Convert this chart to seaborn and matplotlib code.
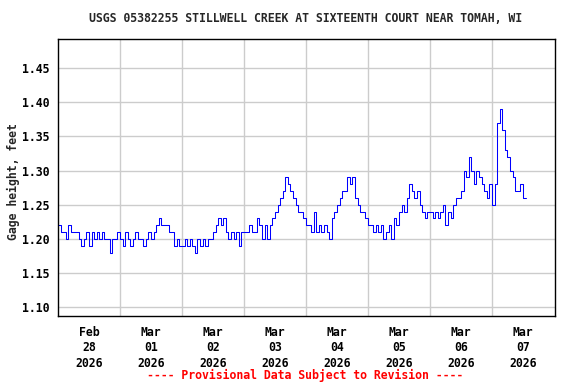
import numpy as np
import pandas as pd
import matplotlib
matplotlib.use("Agg")
import matplotlib.pyplot as plt
import matplotlib.dates as mdates
import seaborn as sns

title = "USGS 05382255 STILLWELL CREEK AT SIXTEENTH COURT NEAR TOMAH, WI"
ylabel = "Gage height, feet"
footer = "---- Provisional Data Subject to Revision ----"

# hourly gage height readings (feet), starting at midnight of each day
feb28 = [1.22, 1.21, 1.21, 1.20, 1.22, 1.21, 1.21, 1.21, 1.20, 1.19, 1.20, 1.21,
         1.19, 1.21, 1.20, 1.21, 1.20, 1.21, 1.20, 1.20, 1.18, 1.20, 1.20, 1.21]
mar01 = [1.20, 1.19, 1.21, 1.20, 1.19, 1.20, 1.21, 1.20, 1.20, 1.19, 1.20, 1.21,
         1.20, 1.21, 1.22, 1.23, 1.22, 1.22, 1.22, 1.21, 1.21, 1.19, 1.20, 1.19]
mar02 = [1.19, 1.20, 1.19, 1.20, 1.19, 1.18, 1.20, 1.19, 1.20, 1.19, 1.20, 1.20,
         1.21, 1.22, 1.23, 1.22, 1.23, 1.21, 1.20, 1.21, 1.20, 1.21, 1.19, 1.21]
mar03 = [1.21, 1.21, 1.22, 1.21, 1.21, 1.23, 1.22, 1.20, 1.22, 1.20, 1.22, 1.23,
         1.24, 1.25, 1.26, 1.27, 1.29, 1.28, 1.27, 1.26, 1.25, 1.24, 1.24, 1.23]
mar04 = [1.22, 1.22, 1.21, 1.24, 1.21, 1.22, 1.21, 1.22, 1.21, 1.20, 1.23, 1.24,
         1.25, 1.26, 1.27, 1.27, 1.29, 1.28, 1.29, 1.26, 1.25, 1.24, 1.24, 1.23]
mar05 = [1.22, 1.22, 1.21, 1.22, 1.21, 1.22, 1.20, 1.21, 1.22, 1.20, 1.23, 1.22,
         1.24, 1.25, 1.24, 1.26, 1.28, 1.27, 1.26, 1.27, 1.25, 1.24, 1.23, 1.24]
mar06 = [1.24, 1.23, 1.24, 1.23, 1.24, 1.25, 1.22, 1.24, 1.23, 1.25, 1.26, 1.26,
         1.27, 1.30, 1.29, 1.32, 1.30, 1.28, 1.30, 1.29, 1.28, 1.27, 1.26, 1.28]
mar07 = [1.25, 1.28, 1.37, 1.39, 1.36, 1.33, 1.32, 1.30, 1.29, 1.27, 1.27, 1.28,
         1.26, 1.26]

day_labels = ["Feb\n28\n2026", "Mar\n01\n2026", "Mar\n02\n2026", "Mar\n03\n2026",
              "Mar\n04\n2026", "Mar\n05\n2026", "Mar\n06\n2026", "Mar\n07\n2026"]
yticks = [1.10, 1.15, 1.20, 1.25, 1.30, 1.35, 1.40, 1.45]

values = feb28 + mar01 + mar02 + mar03 + mar04 + mar05 + mar06 + mar07
times = pd.date_range("2026-02-28 00:00", periods=len(values), freq="h")
df = pd.DataFrame({"time": times, "height": values})

sns.set_theme(style="white")
mono = ["DejaVu Sans Mono"]

fig = plt.figure(figsize=(5.76, 3.84), dpi=100)
ax = fig.add_axes([58 / 576, 1 - 316 / 384, (555 - 58) / 576, (316 - 39) / 384])

sns.lineplot(data=df, x="time", y="height", ax=ax, color="#0000ff",
             linewidth=0.75, drawstyle="steps-post")

start = pd.Timestamp("2026-02-28")
ax.set_xlim(start, pd.Timestamp("2026-03-08") + pd.Timedelta(minutes=25))
ax.set_ylim(1.0873, 1.4925)

days = pd.date_range(start, periods=9, freq="D")
ax.set_xticks(days[1:8])
ax.set_xticklabels([])
mids = days[:8] + pd.Timedelta(hours=12)
ax.set_xticks(mids, minor=True)
ax.set_xticklabels(day_labels, minor=True, family=mono, fontsize=8.3,
                   fontweight="bold", linespacing=1.25)
ax.set_yticks(yticks)
ax.set_yticklabels([f"{v:.2f}" for v in yticks], family=mono, fontsize=8.3,
                   fontweight="bold")
ax.tick_params(axis="both", which="both", length=0, pad=6, colors="black")
ax.tick_params(axis="x", which="minor", pad=7)

ax.grid(True, which="major", color="#cccccc", linewidth=1)
ax.set_axisbelow(True)
for s in ax.spines.values():
    s.set_color("black")
    s.set_linewidth(1)

ax.set_xlabel("")
ax.set_ylabel(ylabel, family=mono, fontsize=8.3, fontweight="bold")
ax.yaxis.set_label_coords(-38 / 497, 0.485)

fig.text(306 / 576, 1 - 19 / 384, title, ha="center", va="center",
         family=mono, fontsize=8.3, fontweight="bold")
fig.text(305 / 576, 1 - 375 / 384, footer, ha="center", va="center",
         family=mono, fontsize=8.3, fontweight="bold", color="#ff0000")

fig.savefig("out.png", dpi=100)
